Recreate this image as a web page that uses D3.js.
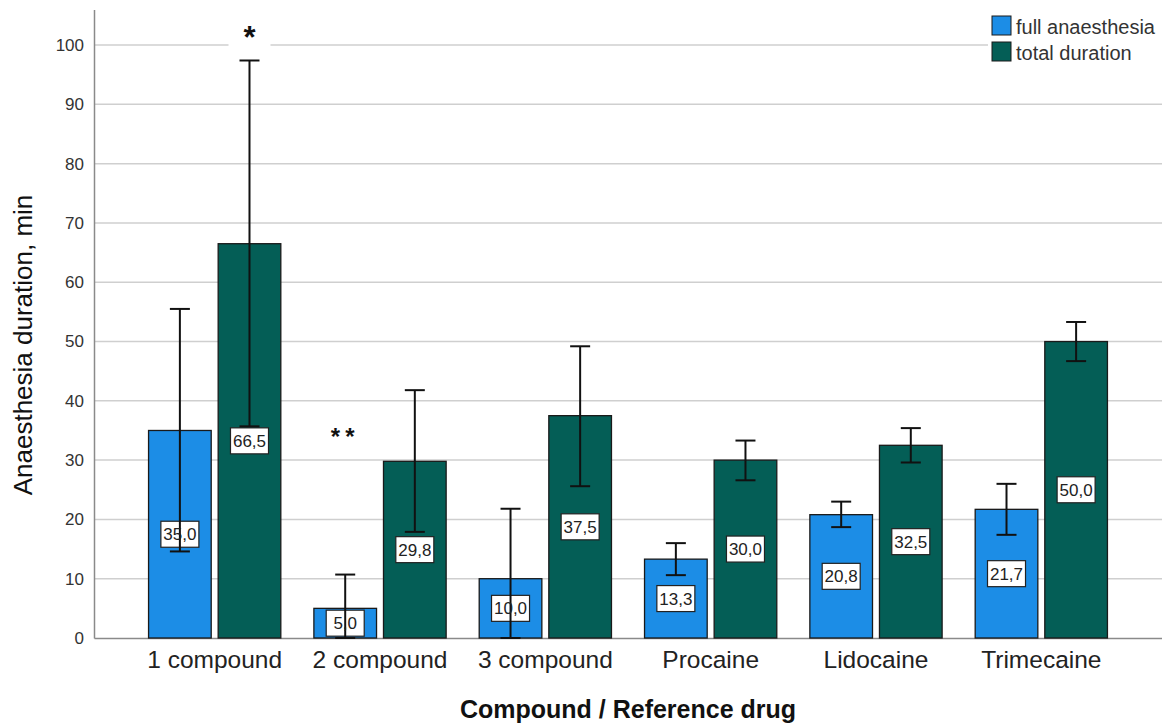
<!DOCTYPE html>
<html>
<head>
<meta charset="utf-8">
<script src="https://cdn.jsdelivr.net/npm/d3@7"></script>
<style>
  body { margin: 0; background: #fff; }
  text { font-family: Arial, "Liberation Sans", sans-serif; }
</style>
</head>
<body>
<svg width="1162" height="724"></svg>
<script>
const categories = ["1 compound", "2 compound", "3 compound", "Procaine", "Lidocaine", "Trimecaine"];
const seriesNames = ["full anaesthesia", "total duration"];
const fullMeans = [35.0, 5.0, 10.0, 13.3, 20.8, 21.7];
const fullLow = [14.6, 0, 0, 10.6, 18.7, 17.4];
const fullHigh = [55.5, 10.7, 21.8, 16.0, 23.0, 26.0];
const totalMeans = [66.5, 29.8, 37.5, 30.0, 32.5, 50.0];
const totalLow = [35.7, 17.9, 25.6, 26.6, 29.6, 46.7];
const totalHigh = [97.4, 41.8, 49.2, 33.3, 35.4, 53.3];
const yTicks = [0, 10, 20, 30, 40, 50, 60, 70, 80, 90, 100];
// significance marks: category, series index, y value
const marks = [
  { cat: "1 compound", s: 1, y: 101.7, text: "*" },
  { cat: "2 compound", s: 0, y: 34.8, text: "**" }
];

var svg = d3.select("svg"),
  width = +svg.attr("width"),
  height = +svg.attr("height");

var colors = ["#1c8de6", "#045e56"];

var x0 = d3.scaleBand()
  .domain(categories)
  .range([94, 1162])
  .paddingInner(0.2)
  .paddingOuter(0.33);

var x1 = d3.scaleBand()
  .domain([0, 1])
  .range([0, x0.bandwidth()])
  .paddingInner(0.1);

var y = d3.scaleLinear()
  .domain([0, 106])
  .range([638, 9.5]);

// gridlines
svg.append("g")
  .selectAll("line")
  .data(yTicks.filter(d => d > 0))
  .enter()
  .append("line")
  .attr("x1", 94)
  .attr("x2", width)
  .attr("y1", d => y(d))
  .attr("y2", d => y(d))
  .attr("stroke", "#cfcfcf")
  .attr("stroke-width", 1.5);

// y axis
var yAxis = svg.append("g")
  .attr("transform", "translate(94,0)")
  .call(d3.axisLeft(y).tickValues(yTicks).tickSize(0).tickPadding(10));
yAxis.select(".domain").attr("stroke", "#8a8a8a").attr("stroke-width", 1.5);
yAxis.selectAll("text")
  .attr("font-size", 17)
  .attr("fill", "#333")
  .style("font-family", "Arial, 'Liberation Sans', sans-serif");

// x axis
var xAxis = svg.append("g")
  .attr("transform", "translate(0,638)")
  .call(d3.axisBottom(x0).tickSize(0).tickPadding(13));
xAxis.select(".domain").attr("stroke", "#8a8a8a").attr("stroke-width", 1.5);
xAxis.selectAll("text")
  .attr("font-size", 24.5)
  .attr("fill", "#222")
  .style("font-family", "Arial, 'Liberation Sans', sans-serif");

var rows = categories.map((c, i) => ({
  cat: c,
  vals: [
    { s: 0, mean: fullMeans[i], lo: fullLow[i], hi: fullHigh[i] },
    { s: 1, mean: totalMeans[i], lo: totalLow[i], hi: totalHigh[i] }
  ]
}));

var groups = svg.append("g")
  .selectAll("g")
  .data(rows)
  .enter()
  .append("g")
  .attr("transform", d => `translate(${x0(d.cat)},0)`);

var bars = groups.selectAll("g.bar")
  .data(d => d.vals)
  .enter()
  .append("g")
  .attr("class", "bar");

bars.append("rect")
  .attr("x", d => x1(d.s))
  .attr("y", d => y(d.mean))
  .attr("width", x1.bandwidth())
  .attr("height", d => y(0) - y(d.mean))
  .attr("fill", d => colors[d.s])
  .attr("stroke", "#1a1a1a")
  .attr("stroke-width", 1.3);

// value labels
bars.append("rect")
  .attr("x", d => x1(d.s) + x1.bandwidth() / 2 - 19)
  .attr("y", d => y(d.mean / 2) - 13)
  .attr("width", 38)
  .attr("height", 26)
  .attr("fill", "#fff")
  .attr("stroke", "#222")
  .attr("stroke-width", 1.2);

// error bars
var cx = d => x1(d.s) + x1.bandwidth() / 2;
bars.append("line")
  .attr("x1", cx).attr("x2", cx)
  .attr("y1", d => y(d.lo)).attr("y2", d => y(d.hi))
  .attr("stroke", "#111").attr("stroke-width", 2);
bars.selectAll("line.cap")
  .data(d => [{ s: d.s, v: d.lo }, { s: d.s, v: d.hi }])
  .enter()
  .append("line")
  .attr("class", "cap")
  .attr("x1", d => cx(d) - 10).attr("x2", d => cx(d) + 10)
  .attr("y1", d => y(d.v)).attr("y2", d => y(d.v))
  .attr("stroke", "#111").attr("stroke-width", 2);

bars.append("text")
  .attr("x", cx)
  .attr("y", d => y(d.mean / 2) + 6)
  .attr("text-anchor", "middle")
  .attr("font-size", 17)
  .attr("fill", "#222")
  .text(d => d.mean.toFixed(1).replace(".", ","));

// significance marks
marks.forEach(m => {
  var mx = x0(m.cat) + x1(m.s) + x1.bandwidth() / 2;
  if (m.text === "*") {
    svg.append("rect")
      .attr("x", mx - 21).attr("y", y(m.y) - 14)
      .attr("width", 42).attr("height", 28)
      .attr("fill", "#fff");
  }
  svg.append("text")
    .attr("x", mx)
    .attr("y", y(m.y) + (m.text === "*" ? 13 : 13))
    .attr("text-anchor", "middle")
    .attr("font-size", m.text === "*" ? 31 : 24)
    .attr("font-weight", "bold")
    .attr("letter-spacing", m.text === "*" ? 0 : 5)
    .attr("fill", "#111")
    .text(m.text);
});

// legend
var lg = svg.append("g").attr("transform", "translate(988,10)");
lg.append("rect")
  .attr("width", 174).attr("height", 58)
  .attr("fill", "#fff");
lg.selectAll("rect.key")
  .data(seriesNames)
  .enter()
  .append("rect")
  .attr("class", "key")
  .attr("x", 4)
  .attr("y", (d, i) => 6 + i * 26)
  .attr("width", 19)
  .attr("height", 19)
  .attr("fill", (d, i) => colors[i])
  .attr("stroke", "#1a1a1a")
  .attr("stroke-width", 1);
lg.selectAll("text")
  .data(seriesNames)
  .enter()
  .append("text")
  .attr("x", 28)
  .attr("y", (d, i) => 24 + i * 26)
  .attr("font-size", 20)
  .attr("fill", "#333")
  .text(d => d);

// axis titles
svg.append("text")
  .attr("transform", "translate(32,345) rotate(-90)")
  .attr("text-anchor", "middle")
  .attr("font-size", 26)
  .attr("fill", "#111")
  .text("Anaesthesia duration, min");

svg.append("text")
  .attr("x", 628)
  .attr("y", 718)
  .attr("text-anchor", "middle")
  .attr("font-size", 25)
  .attr("font-weight", "bold")
  .attr("fill", "#111")
  .text("Compound / Reference drug");
</script>
</body>
</html>
